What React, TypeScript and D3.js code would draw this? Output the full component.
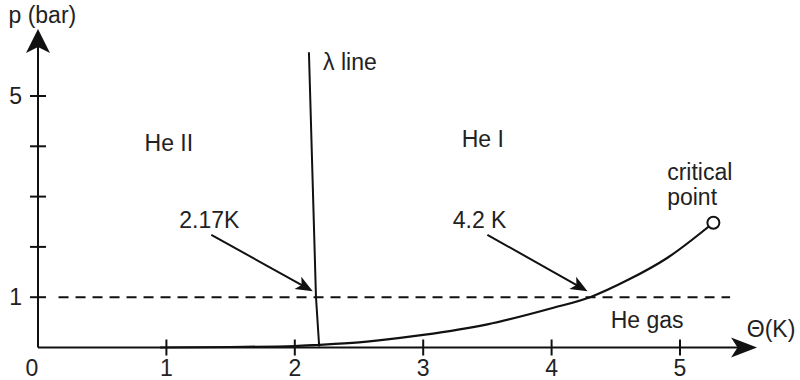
import React from "react";
import * as d3 from "d3";

// Data
const xTicks = [1, 2, 3, 4, 5];
const yTicks = [1, 2, 3, 4, 5];
const yTickLabels = ["1", "", "", "", "5"];
const vaporT = [0.95, 1.5, 2.0, 2.17, 2.5, 2.82, 3.0, 3.5, 4.0, 4.3, 4.6, 4.9, 5.26];
const vaporP = [0.0, 0.01, 0.03, 0.05, 0.1, 0.19, 0.25, 0.46, 0.78, 1.0, 1.35, 1.78, 2.48];
const lambdaT = [2.19, 2.165, 2.11];
const lambdaP = [0.02, 1.0, 5.87];
const dashedT = [0.16, 5.39];
const dashedP = [1, 1];
const criticalT = 5.26;
const criticalP = 2.48;
const arrowsFrom = [[1.35, 2.24], [3.5, 2.24]];
const arrowsTo = [[2.14, 1.12], [4.28, 1.12]];
const labels = [
  { text: "He II", t: 0.83, p: 3.91 },
  { text: "He I", t: 3.3, p: 3.99 },
  { text: "2.17K", t: 1.1, p: 2.38 },
  { text: "4.2 K", t: 3.23, p: 2.38 },
  { text: "λ line", t: 2.22, p: 5.52 },
  { text: "critical", t: 4.9, p: 3.33 },
  { text: "point", t: 4.9, p: 2.83 },
  { text: "He gas", t: 4.46, p: 0.39 },
  { text: "Θ(K)", t: 5.52, p: 0.21 },
  { text: "p (bar)", t: -0.23, p: 6.45 },
];
const xAxisEnd = 5.6;
const yAxisEnd = 6.33;

const W = 800;
const H = 380;
const FONT = "'Liberation Sans', Arial, sans-serif";
const FS = 23;

export default function App() {
  const x = d3.scaleLinear().domain([0, 5]).range([38, 680]);
  const y = d3.scaleLinear().domain([0, 5]).range([347.5, 96]);
  const line = d3
    .line<[number, number]>()
    .x((d) => x(d[0]))
    .y((d) => y(d[1]))
    .curve(d3.curveMonotoneX);
  const straight = d3
    .line<[number, number]>()
    .x((d) => x(d[0]))
    .y((d) => y(d[1]));

  const vapor = vaporT.map((t, i) => [t, vaporP[i]] as [number, number]);
  const lambda = lambdaT.map((t, i) => [t, lambdaP[i]] as [number, number]);
  const dashed = dashedT.map((t, i) => [t, dashedP[i]] as [number, number]);

  const x0 = x(0);
  const y0 = y(0);

  const head = (tx: number, ty: number, fx: number, fy: number, len: number, hw: number) => {
    const dx = tx - fx;
    const dy = ty - fy;
    const L = Math.hypot(dx, dy);
    const ux = dx / L;
    const uy = dy / L;
    const px = -uy;
    const py = ux;
    const bx = tx - ux * len;
    const by = ty - uy * len;
    const nx = tx - ux * len * 0.75;
    const ny = ty - uy * len * 0.75;
    return `M${tx},${ty} L${bx + px * hw},${by + py * hw} L${nx},${ny} L${bx - px * hw},${by - py * hw} Z`;
  };

  const xEnd = x(xAxisEnd);
  const yEnd = y(yAxisEnd);

  return (
    <svg
      width={W}
      height={H}
      style={{ position: "absolute", left: 0, top: 0, background: "#fff" }}
      fontFamily={FONT}
    >
      <rect width={W} height={H} fill="#fff" />
      {/* axes */}
      <line x1={x0} y1={y0} x2={xEnd - 10} y2={y0} stroke="#111" strokeWidth={2} />
      <line x1={x0} y1={y0} x2={x0} y2={yEnd + 10} stroke="#111" strokeWidth={2} />
      <path d={head(xEnd, y0, x0, y0, 26, 10)} fill="#111" />
      <path d={head(x0, yEnd, x0, y0, 24, 12)} fill="#111" />
      {xTicks.map((t) => (
        <g key={"xt" + t}>
          <line x1={x(t)} x2={x(t)} y1={y0 - 8} y2={y0 + 8} stroke="#111" strokeWidth={2} />
          <text x={x(t)} y={376} textAnchor="middle" fontSize={FS} fill="#222">
            {t}
          </text>
        </g>
      ))}
      <text x={32} y={376} textAnchor="middle" fontSize={FS} fill="#222">
        0
      </text>
      {yTicks.map((p, i) => (
        <g key={"yt" + p}>
          <line x1={x0 - 8} x2={x0 + 8} y1={y(p)} y2={y(p)} stroke="#111" strokeWidth={2} />
          {yTickLabels[i] && (
            <text x={22} y={y(p) + 8} textAnchor="end" fontSize={FS} fill="#222">
              {yTickLabels[i]}
            </text>
          )}
        </g>
      ))}
      {/* dashed p = 1 line */}
      <path d={straight(dashed) || ""} fill="none" stroke="#111" strokeWidth={2} strokeDasharray="10,7" />
      {/* lambda line */}
      <path d={straight(lambda) || ""} fill="none" stroke="#111" strokeWidth={2} />
      {/* vapor pressure curve */}
      <path d={line(vapor) || ""} fill="none" stroke="#111" strokeWidth={2.2} />
      <circle cx={x(criticalT)} cy={y(criticalP)} r={6} fill="#fff" stroke="#111" strokeWidth={2} />
      {/* annotation arrows */}
      {arrowsFrom.map((f, i) => {
        const fx = x(f[0]);
        const fy = y(f[1]);
        const tx = x(arrowsTo[i][0]);
        const ty = y(arrowsTo[i][1]);
        const L = Math.hypot(tx - fx, ty - fy);
        const ex = tx - ((tx - fx) / L) * 12;
        const ey = ty - ((ty - fy) / L) * 12;
        return (
          <g key={"ar" + i}>
            <line x1={fx} y1={fy} x2={ex} y2={ey} stroke="#111" strokeWidth={2} />
            <path d={head(tx, ty, fx, fy, 17, 7)} fill="#111" />
          </g>
        );
      })}
      {labels.map((l) => (
        <text key={l.text} x={x(l.t)} y={y(l.p)} fontSize={FS} fill="#222">
          {l.text}
        </text>
      ))}
    </svg>
  );
}
